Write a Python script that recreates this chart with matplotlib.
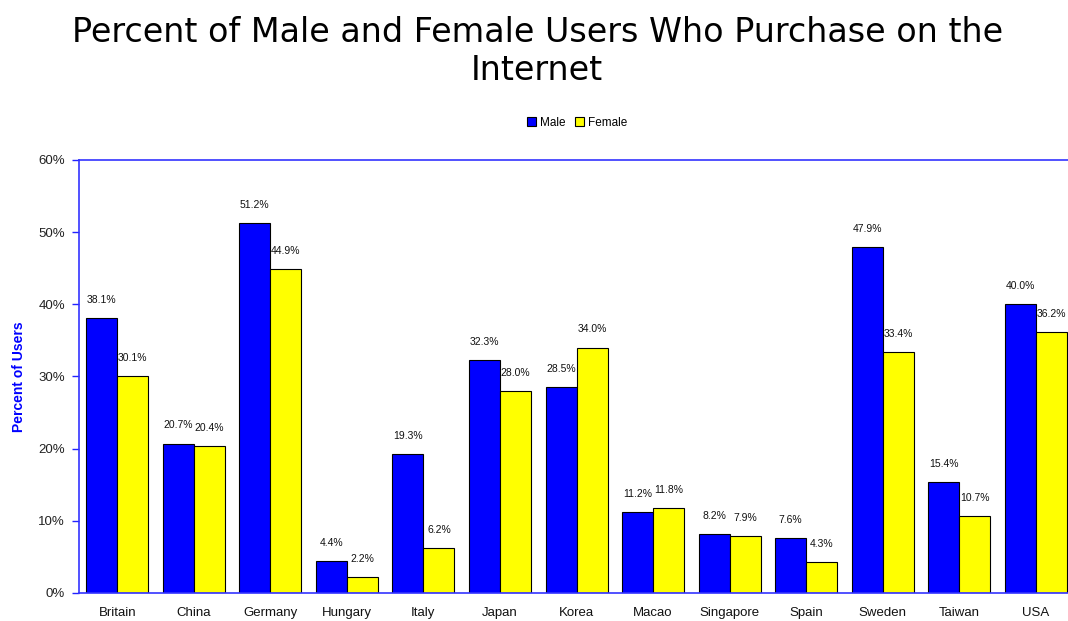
import matplotlib
matplotlib.use("Agg")
import matplotlib.pyplot as plt
import numpy as np

countries = ["Britain", "China", "Germany", "Hungary", "Italy", "Japan", "Korea",
             "Macao", "Singapore", "Spain", "Sweden", "Taiwan", "USA"]
male = [38.1, 20.7, 51.2, 4.4, 19.3, 32.3, 28.5, 11.2, 8.2, 7.6, 47.9, 15.4, 40.0]
female = [30.1, 20.4, 44.9, 2.2, 6.2, 28.0, 34.0, 11.8, 7.9, 4.3, 33.4, 10.7, 36.2]
y_ticks = [0, 10, 20, 30, 40, 50, 60]

plt.rcParams["font.family"] = ["Liberation Sans", "DejaVu Sans"]

fig = plt.figure(figsize=(10.68, 6.21), dpi=100)
ax = fig.add_axes([0.074, 0.0451, 0.9316, 0.6973])

x = np.arange(len(countries))
w = 0.405
b1 = ax.bar(x - w / 2, male, w, color="#0000FF", edgecolor="black", linewidth=0.8, label="Male")
b2 = ax.bar(x + w / 2, female, w, color="#FFFF00", edgecolor="black", linewidth=0.8, label="Female")

for bars, vals in ((b1, male), (b2, female)):
    for rect, v in zip(bars, vals):
        ax.annotate(f"{v:.1f}%", (rect.get_x() + rect.get_width() / 2, v),
                    xytext=(0, 9.5), textcoords="offset points",
                    ha="center", va="bottom", fontsize=7.5, color="#111111")

ax.set_xlim(-0.5, len(countries) - 0.5)
ax.set_ylim(0, 60)
ax.set_yticks(y_ticks)
ax.set_yticklabels([f"{t}%" for t in y_ticks], fontsize=9.5, color="#222222")
ax.set_xticks(x)
ax.set_xticklabels(countries, fontsize=9.5, color="#111111")
ax.tick_params(axis="x", length=0, pad=10)
ax.tick_params(axis="y", length=5, color="#2222FF", width=1, pad=5)

spine_color = "#3333FF"
for side in ("left", "top", "bottom"):
    ax.spines[side].set_color(spine_color)
    ax.spines[side].set_linewidth(1.2)
ax.spines["right"].set_visible(False)

ax.set_ylabel("Percent of Users", color="#0000FF", fontweight="bold", fontsize=10, labelpad=9)

fig.suptitle("Percent of Male and Female Users Who Purchase on the\nInternet",
             family="DejaVu Sans", fontsize=24, y=0.975, x=0.503, linespacing=1.22)

fig.legend(handles=[b1, b2], labels=["Male", "Female"], loc="center",
           bbox_to_anchor=(0.54, 0.802), ncol=2, frameon=False, fontsize=8.5,
           handlelength=0.8, handleheight=0.8, handletextpad=0.3, columnspacing=0.8)

fig.savefig("out.png", dpi=100, facecolor="white")
